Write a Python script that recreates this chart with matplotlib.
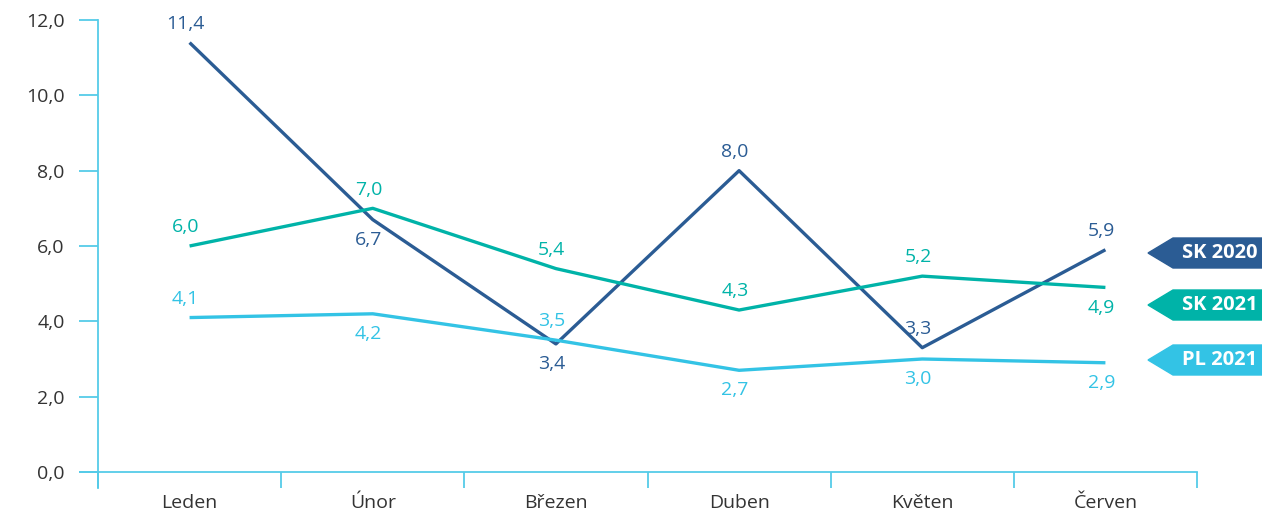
"""Monthly values SK 2020 / SK 2021 / PL 2021."""

import matplotlib.pyplot as plt
from matplotlib.patches import Polygon
from matplotlib.lines import Line2D

months = ["Leden", "Únor", "Březen", "Duben", "Květen", "Červen"]
sk_2020 = [11.4, 6.7, 3.4, 8.0, 3.3, 5.9]
sk_2021 = [6.0, 7.0, 5.4, 4.3, 5.2, 4.9]
pl_2021 = [4.1, 4.2, 3.5, 2.7, 3.0, 2.9]

# label above (+1) or below (-1) each point
sk_2020_pos = [1, -1, -1, 1, 1, 1]
sk_2021_pos = [1, 1, 1, 1, 1, -1]
pl_2021_pos = [1, -1, 1, -1, -1, -1]

series = [
    ("SK 2020", sk_2020, sk_2020_pos, "#2b5c94"),
    ("SK 2021", sk_2021, sk_2021_pos, "#00b3a8"),
    ("PL 2021", pl_2021, pl_2021_pos, "#33c3e5"),
]
axis_color = "#55cbe8"
text_color = "#333333"

plt.rcParams["font.family"] = ["Open Sans", "DejaVu Sans"]

W, H = 1262, 515
fig = plt.figure(figsize=(W / 100, H / 100), dpi=100)
ax = fig.add_axes([98 / W, 43 / H, (1197 - 98) / W, (472 - 20) / H])

x = [i + 0.5 for i in range(len(months))]
for name, vals, pos, color in series:
    ax.plot(x, vals, color=color, lw=2.4, solid_capstyle="butt", zorder=3)
    for xi, v, p in zip(x, vals, pos):
        ax.annotate(f"{v:.1f}".replace(".", ","), (xi, v),
                    xytext=(-3, 7 if p > 0 else -8),
                    textcoords="offset points", ha="center",
                    va="bottom" if p > 0 else "top", fontsize=14, color=color)

ax.set_xlim(0, 6)
ax.set_ylim(0, 12)
for s in ax.spines.values():
    s.set_visible(False)

# axis lines, extending a little past the plot area
ax.add_line(Line2D([-18 / 1099, 1], [0, 0], transform=ax.transAxes,
                   color=axis_color, lw=1.3, clip_on=False))
ax.add_line(Line2D([0, 0], [-16 / 452, 1], transform=ax.transAxes,
                   color=axis_color, lw=1.3, clip_on=False))

ax.set_yticks(range(0, 13, 2))
ax.set_yticklabels([f"{v:.1f}".replace(".", ",") for v in range(0, 13, 2)])
ax.tick_params(axis="y", length=14, width=1.3, color=axis_color, pad=10,
               labelsize=14, labelcolor=text_color)
ax.set_xticks(x)
ax.set_xticklabels(months)
ax.set_xticks(range(0, 7), minor=True)
ax.tick_params(axis="x", which="major", length=0, pad=16, labelsize=14,
               labelcolor=text_color)
ax.tick_params(axis="x", which="minor", length=11.5, width=1.3, color=axis_color)

# arrow-shaped legend tags on the right edge
for (name, vals, pos, color), yc in zip(series, [253, 305, 360]):
    y0 = H - yc
    pts = [(1148, y0), (1173, y0 + 15), (1270, y0 + 15),
           (1270, y0 - 15), (1173, y0 - 15)]
    fig.patches.append(Polygon([(px / W, py / H) for px, py in pts], closed=True,
                               transform=fig.transFigure, color=color))
    fig.text(1182 / W, y0 / H, name, color="white", fontsize=14.5,
             fontweight="bold", va="center", ha="left")

plt.savefig("out.png", dpi=100)
